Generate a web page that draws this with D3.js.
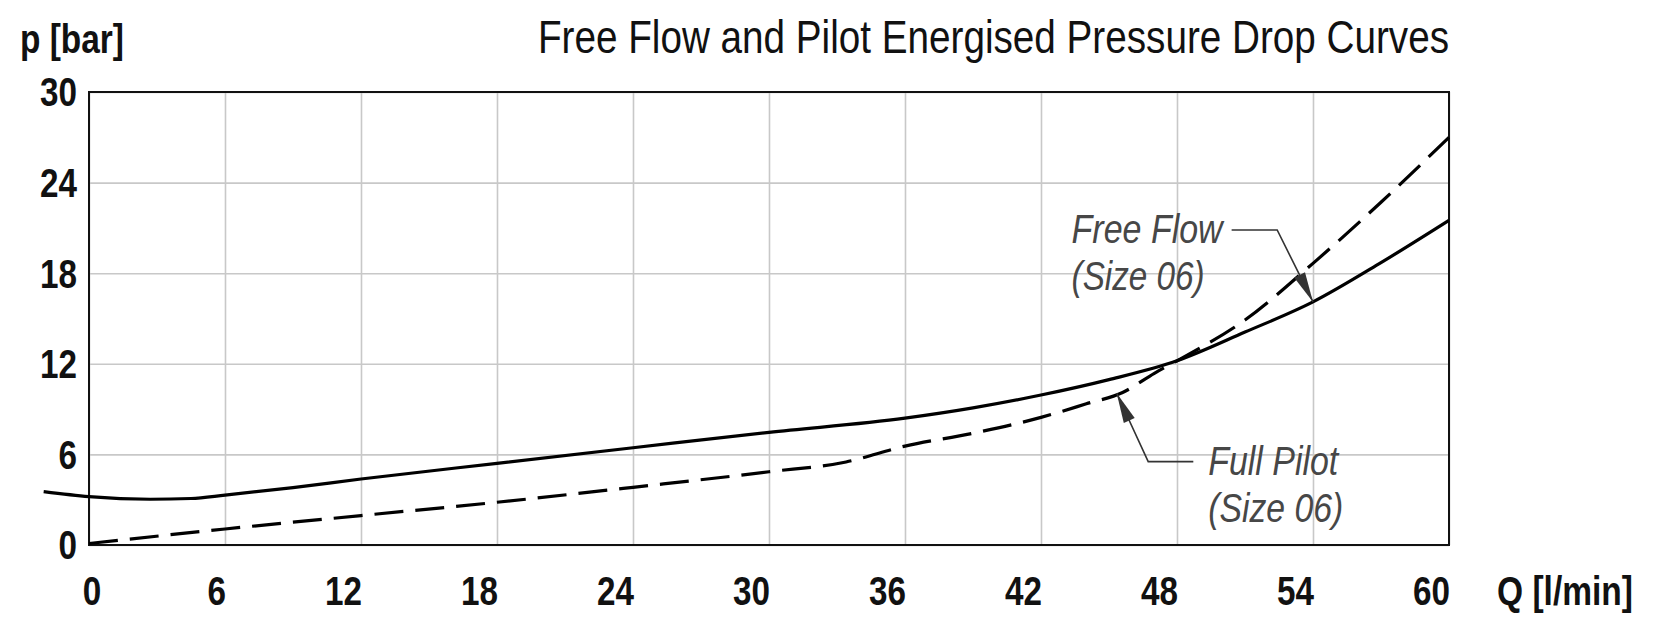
<!DOCTYPE html>
<html>
<head>
<meta charset="utf-8">
<script src="https://cdn.jsdelivr.net/npm/d3@7"></script>
<style>
  html, body { margin: 0; padding: 0; background: #fff; }
  svg { display: block; }
</style>
</head>
<body>
<svg id="chart" width="1662" height="617"></svg>
<script>
// ---- data ----
const xTicks = [0, 6, 12, 18, 24, 30, 36, 42, 48, 54, 60];
const yTicks = [0, 6, 12, 18, 24, 30];

// Free Flow (Size 06) - solid curve
const freeFlowQ = [-2, 0, 2.7, 4.5, 6, 9, 12, 18, 24, 30, 36, 39, 42, 45, 48, 51, 54, 57, 60];
const freeFlowP = [3.53, 3.2, 3.03, 3.08, 3.3, 3.8, 4.37, 5.41, 6.44, 7.46, 8.4, 9.08, 9.93, 10.95, 12.2, 14.1, 16.1, 18.7, 21.5];

// Full Pilot (Size 06) - dashed curve
const fullPilotQ = [0, 6, 12, 18, 24, 30, 33.4, 36, 39, 42, 44, 45.6, 47, 48, 51, 54, 57, 60];
const fullPilotP = [0.1, 1.06, 1.95, 2.83, 3.82, 4.85, 5.5, 6.55, 7.4, 8.45, 9.35, 10.1, 11.37, 12.2, 14.9, 18.65, 22.7, 27.0];

const title = "Free Flow and Pilot Energised Pressure Drop Curves";
const yLabel = "p [bar]";
const xLabel = "Q [l/min]";

// ---- layout ----
const svg = d3.select("#chart");
const m = { left: 89, top: 92, right: 213, bottom: 72 };
const W = 1662, H = 617;
const iw = W - m.left - m.right;   // 1360
const ih = H - m.top - m.bottom;   // 453

const x = d3.scaleLinear().domain([0, 60]).range([m.left, m.left + iw]);
const y = d3.scaleLinear().domain([0, 30]).range([m.top + ih, m.top]);

const font = "'Liberation Sans', Arial, sans-serif";

// grid
const gx = svg.append("g")
  .attr("transform", `translate(0,${m.top + ih})`)
  .call(d3.axisBottom(x).tickValues(xTicks).tickSize(-ih).tickFormat(""));
const gy = svg.append("g")
  .attr("transform", `translate(${m.left},0)`)
  .call(d3.axisLeft(y).tickValues(yTicks).tickSize(-iw).tickFormat(""));
[gx, gy].forEach(g => {
  g.select(".domain").remove();
  g.selectAll(".tick line").attr("stroke", "#c8c8c8").attr("stroke-width", 1.6);
});

// frame
svg.append("rect")
  .attr("x", m.left).attr("y", m.top).attr("width", iw).attr("height", ih)
  .attr("fill", "none").attr("stroke", "#111").attr("stroke-width", 2);

// tick labels (condensed by textLength)
svg.append("g").selectAll("text").data(xTicks).join("text")
  .attr("x", d => d === 0 ? x(d) + 3 : x(d) + 1)
  .attr("y", 605)
  .attr("text-anchor", d => d === 0 ? "middle" : "end")
  .attr("font-family", font).attr("font-weight", "bold").attr("font-size", 40)
  .attr("textLength", d => String(d).length * 18.5)
  .attr("lengthAdjust", "spacingAndGlyphs")
  .attr("fill", "#111")
  .text(d => d);

svg.append("g").selectAll("text").data(yTicks).join("text")
  .attr("x", 77)
  .attr("y", d => y(d))
  .attr("dy", "0.36em")
  .attr("text-anchor", "end")
  .attr("font-family", font).attr("font-weight", "bold").attr("font-size", 40)
  .attr("textLength", d => String(d).length * 18.5)
  .attr("lengthAdjust", "spacingAndGlyphs")
  .attr("fill", "#111")
  .text(d => d);

// axis titles
svg.append("text").attr("x", 20).attr("y", 53)
  .attr("font-family", font).attr("font-weight", "bold").attr("font-size", 40)
  .attr("textLength", 104).attr("lengthAdjust", "spacingAndGlyphs")
  .attr("fill", "#111").text(yLabel);
svg.append("text").attr("x", 1497).attr("y", 605)
  .attr("font-family", font).attr("font-weight", "bold").attr("font-size", 40)
  .attr("textLength", 136).attr("lengthAdjust", "spacingAndGlyphs")
  .attr("fill", "#111").text(xLabel);

// chart title
svg.append("text").attr("x", 538).attr("y", 53)
  .attr("font-family", font).attr("font-size", 46)
  .attr("textLength", 911).attr("lengthAdjust", "spacingAndGlyphs")
  .attr("fill", "#111").text(title);

// curves
const freeFlow = freeFlowQ.map((q, i) => [q, freeFlowP[i]]);
const fullPilot = fullPilotQ.map((q, i) => [q, fullPilotP[i]]);
const line = d3.line().x(d => x(d[0])).y(d => y(d[1])).curve(d3.curveMonotoneX);

svg.append("path").datum(freeFlow).attr("d", line)
  .attr("fill", "none").attr("stroke", "#000").attr("stroke-width", 3.2);
svg.append("path").datum(fullPilot).attr("d", line)
  .attr("fill", "none").attr("stroke", "#000").attr("stroke-width", 3.2)
  .attr("stroke-dasharray", "29,12");

// annotations
const annColor = "#474747";
function leader(pts) {
  const px = pts.map(p => [x(p[0]), y(p[1])]);
  svg.append("path").attr("d", d3.line()(px))
    .attr("fill", "none").attr("stroke", "#333").attr("stroke-width", 1.6);
  const tip = px[px.length - 1], prev = px[px.length - 2];
  const dx = tip[0] - prev[0], dy = tip[1] - prev[1];
  const len = Math.hypot(dx, dy), ux = dx / len, uy = dy / len;
  const L = 30, hw = 6;
  const bx = tip[0] - ux * L, by = tip[1] - uy * L;
  svg.append("path")
    .attr("d", `M${tip[0]},${tip[1]}L${bx - uy * hw},${by + ux * hw}L${bx + uy * hw},${by - ux * hw}Z`)
    .attr("fill", "#333");
}
function label(q, p, lines, widths) {
  lines.forEach((s, i) => {
    svg.append("text")
      .attr("x", x(q)).attr("y", y(p) + i * 47)
      .attr("font-family", font).attr("font-style", "italic").attr("font-size", 40)
      .attr("textLength", widths[i]).attr("lengthAdjust", "spacingAndGlyphs")
      .attr("fill", annColor).text(s);
  });
}

// Free Flow
label(43.35, 19.98, ["Free Flow", "(Size 06)"], [151, 133]);
leader([[50.41, 20.86], [52.42, 20.86], [54.0, 16.1]]);

// Full Pilot
label(49.38, 4.64, ["Full Pilot", "(Size 06)"], [130, 135]);
leader([[48.72, 5.52], [46.73, 5.52], [45.34, 10.05]]);
</script>
</body>
</html>
